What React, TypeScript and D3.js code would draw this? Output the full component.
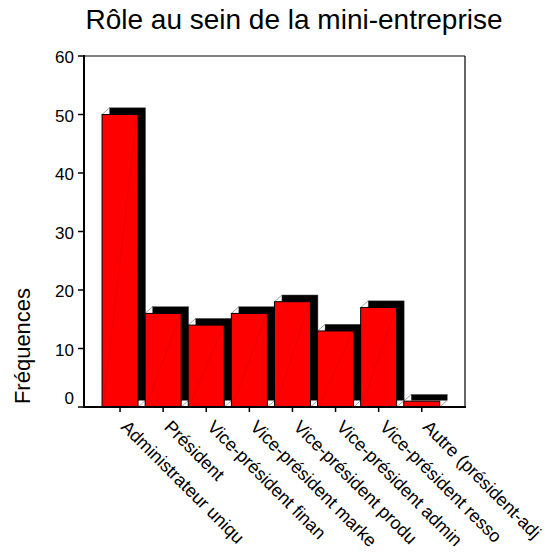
import React from "react";
import * as d3 from "d3";

const categories = [
  "Administrateur uniqu",
  "Président",
  "Vice-président finan",
  "Vice-président marke",
  "Vice-président produ",
  "Vice-président admin",
  "Vice-président resso",
  "Autre (président-adj",
];
const frequencies = [50, 16, 14, 16, 18, 13, 17, 1];
const yTicks = [0, 10, 20, 30, 40, 50, 60];
const title = "Rôle au sein de la mini-entreprise";
const yLabel = "Fréquences";

export default function App() {
  const W = 551, H = 556;
  const left = 84, right = 465, top = 56, bottom = 407;
  const y = d3.scaleLinear().domain([0, 60]).range([bottom, top]);
  const x = d3.scaleBand<string>().domain(categories).range([98.5, 443.3]).padding(0);
  const bw = 36;
  const dx = 7.5, dy = 6.7;
  const font = "'Liberation Sans', Arial, sans-serif";

  return (
    <svg width={W} height={H} style={{ position: "absolute", left: 0, top: 0, background: "#fff" }} fontFamily={font}>
      <rect x={0} y={0} width={W} height={H} fill="#fff" />
      <text x={294} y={29} textAnchor="middle" fontSize={28} fill="#000">{title}</text>
      {/* frame */}
      <line x1={left} y1={top} x2={right} y2={top} stroke="#000" strokeWidth={1.2} />
      <line x1={right} y1={top} x2={right} y2={bottom} stroke="#000" strokeWidth={1.2} />
      {/* bars */}
      {categories.map((c, i) => {
        const cx = (x(c) as number) + x.bandwidth() / 2;
        const x0 = cx - bw / 2, x1 = cx + bw / 2;
        const yt = y(frequencies[i]);
        const yb = y(0);
        return (
          <g key={c}>
            <rect x={x0 + dx} y={yt - dy} width={bw} height={yb - yt} fill="#000" stroke="#555" strokeWidth={0.5} />
            <line x1={x0} y1={yt} x2={x0 + dx} y2={yt - dy} stroke="#666" strokeWidth={0.6} />
            <line x1={x1} y1={yb} x2={x1 + dx} y2={yb - dy} stroke="#666" strokeWidth={0.6} />
            <rect x={x0} y={yt} width={bw} height={yb - yt} fill="#ff0000" stroke="#000" strokeWidth={1} />
            <line x1={x0 + 1} y1={yb} x2={x1 - 1} y2={yt + 1} stroke="#d00000" strokeWidth={0.4} />
          </g>
        );
      })}
      {/* axes */}
      <line x1={left} y1={top - 1} x2={left} y2={bottom + 1} stroke="#000" strokeWidth={2} />
      <line x1={left - 1} y1={bottom} x2={right + 1} y2={bottom} stroke="#000" strokeWidth={2} />
      {yTicks.map((t) => (
        <g key={t}>
          <line x1={left - 6} x2={left} y1={y(t)} y2={y(t)} stroke="#000" strokeWidth={1.5} />
          <text x={74} y={t === 0 ? y(t) - 3 : y(t) + 7} textAnchor="end" fontSize={17} fill="#000">{t}</text>
        </g>
      ))}
      {categories.map((c) => {
        const cx = (x(c) as number) + x.bandwidth() / 2;
        return (
          <g key={"t" + c}>
            <line x1={cx} x2={cx} y1={bottom} y2={bottom + 5} stroke="#000" strokeWidth={1.5} />
            <text transform={`translate(${cx},${bottom + 21}) rotate(45)`} fontSize={18} fill="#000">{c}</text>
          </g>
        );
      })}
      <text transform={`translate(30,346) rotate(-90)`} textAnchor="middle" fontSize={22} fill="#000">{yLabel}</text>
    </svg>
  );
}
